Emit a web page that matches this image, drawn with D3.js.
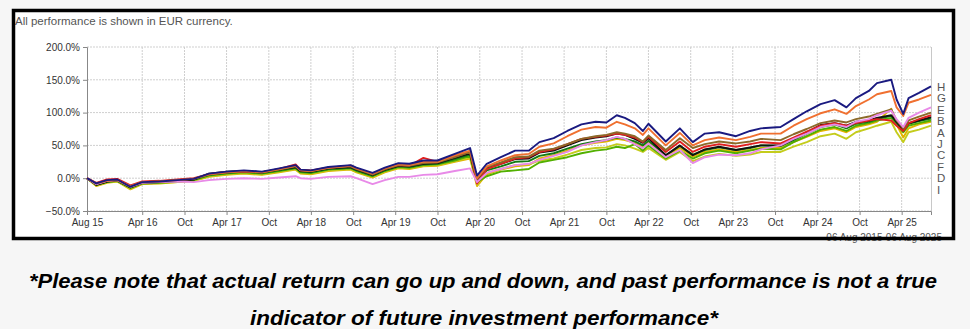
<!DOCTYPE html>
<html>
<head>
<meta charset="utf-8">
<script src="https://cdn.jsdelivr.net/npm/d3@7"></script>
<style>
  body { margin: 0; background: #f6f6f6; }
  svg { display: block; }
</style>
</head>
<body>
<svg id="chart" width="970" height="329"></svg>
<script>
// sample dates (end of each segment)
const dates = ["2015-08-06","2015-09-15","2015-11-01","2015-12-15","2016-02-10","2016-04-01","2016-06-15","2016-09-01","2016-11-10","2017-01-15",
  "2017-04-01","2017-06-15","2017-09-01","2017-11-15","2018-01-25","2018-02-15","2018-04-01","2018-06-15","2018-09-20","2018-10-15",
  "2018-12-24","2019-02-15","2019-04-15","2019-06-01","2019-08-01","2019-10-01","2019-12-15","2020-02-19","2020-03-20","2020-05-01",
  "2020-07-01","2020-09-01","2020-10-30","2020-12-15","2021-02-15","2021-04-15","2021-06-15","2021-08-15","2021-10-01","2021-11-15",
  "2021-12-20","2022-02-01","2022-03-08","2022-04-01","2022-06-15","2022-08-15","2022-10-10","2022-12-01","2023-02-01","2023-04-15",
  "2023-06-15","2023-08-01","2023-10-25","2023-12-20","2024-02-15","2024-04-15","2024-06-15","2024-08-05","2024-09-15","2024-11-10",
  "2024-12-15","2025-02-15","2025-03-10","2025-04-08","2025-05-01","2025-06-15","2025-08-06"];

// cumulative performance in %, one array per fund
const seriesH = [0,-8,-3,-2,-13,-6,-5,-3,-1,7, 10,12,10,15,20,13,12,17,20,16, 8,16,23,22,27,27,37,46,4,22,
  32,42,42,55,61,72,82,86,85,96, 92,84,72,83,56,76,55,68,70,64, 72,76,78,90,102,113,119,108,122,133, 145,150,120,98,122,130,140];
const seriesG = [0,-8,-4,-3,-12,-6,-5,-3,-1,6, 9,11,9,14,19,12,11,16,19,15, 7,15,21,20,25,25,35,42,0,18,
  27,35,37,48,53,64,74,78,77,86, 82,76,66,76,50,69,50,58,62,58, 63,68,68,80,90,99,105,98,110,120, 128,133,108,95,115,120,127];
const seriesE = [0,-9,-4,-3,-13,-7,-6,-5,-6,-3, -1,0,-1,1,3,0,-1,2,3,0, -9,-3,2,2,5,6,11,15,-6,8,
  14,20,22,28,34,40,50,55,58,63, 60,52,46,53,32,43,23,32,36,35, 38,44,50,60,68,78,82,78,86,90, 96,103,90,78,92,100,108];
const seriesB = [0,-9,-4,-3,-13,-6,-5,-3,-1,6, 9,11,9,13,18,12,11,16,18,14, 6,14,20,19,23,24,32,40,-2,17,
  24,32,33,42,45,52,60,64,66,70, 68,64,56,65,43,61,46,52,56,53, 56,60,58,67,75,84,88,85,90,94, 98,105,88,76,88,94,100];
const seriesA = [0,-7,-2,-1,-11,-5,-4,-2,0,6, 9,10,9,14,21,13,12,16,19,15, 6,14,20,19,31,25,33,40,-8,14,
  22,30,32,40,44,52,60,63,65,68, 66,62,55,63,40,56,40,48,52,48, 52,55,53,62,71,80,84,80,84,88, 90,88,80,72,84,90,96];
const seriesJ = [0,-10,-5,-3,-14,-7,-6,-4,-2,7, 10,11,9,13,17,11,10,15,17,13, 5,13,19,18,22,23,31,38,-4,15,
  22,29,30,39,42,50,58,62,64,68, 66,60,54,61,35,50,35,44,48,43, 47,50,50,60,70,81,84,80,86,88, 92,96,86,74,84,88,93];
const seriesC = [0,-10,-5,-4,-14,-7,-6,-4,-2,5, 8,10,8,12,16,10,9,14,16,12, 4,12,18,17,21,22,29,36,-5,12,
  18,25,26,34,38,45,52,56,58,62, 60,56,50,57,35,49,36,43,47,43, 46,50,49,58,68,78,82,76,83,86, 90,95,85,72,83,87,91];
const seriesF = [0,-10,-6,-4,-15,-8,-7,-5,-3,4, 7,9,7,11,15,9,8,13,15,11, 3,11,17,16,20,21,27,34,-6,3,
  10,12,14,24,28,32,38,42,44,48, 46,52,42,50,30,42,30,38,42,38, 42,45,44,55,64,74,78,72,80,84, 88,92,82,70,80,84,88];
const seriesD = [0,-11,-6,-5,-16,-8,-7,-6,-4,3, 6,8,6,10,14,8,7,12,14,10, 2,10,16,15,19,20,26,32,-10,8,
  14,20,21,27,30,36,43,46,47,52, 50,45,40,46,28,40,26,33,37,34, 36,40,40,48,55,64,68,60,70,76, 80,86,70,55,70,74,80];
const seriesI = [0,-12,-7,-5,-17,-9,-8,-6,-4,2, 5,7,5,9,13,7,6,11,13,9, 1,9,15,14,18,19,25,30,-12,6,
  13,18,20,30,35,42,50,54,56,60, 58,54,48,55,34,46,33,40,44,40, 43,46,46,55,63,72,76,70,78,82, 86,106,82,62,76,82,86];

const legendLetters = ["H","G","E","B","A","J","C","F","D","I"];
const yTicks = [-50, 0, 50, 100, 150, 200];
const xTickDates = ["2015-08-06","2016-04-01","2016-10-01","2017-04-01","2017-10-01","2018-04-01","2018-10-01","2019-04-01","2019-10-01",
  "2020-04-01","2020-10-01","2021-04-01","2021-10-01","2022-04-01","2022-10-01","2023-04-01","2023-10-01","2024-04-01","2024-10-01","2025-04-01"];
const xTickLabels = ["Aug 15","Apr 16","Oct","Apr 17","Oct","Apr 18","Oct","Apr 19","Oct","Apr 20","Oct","Apr 21","Oct","Apr 22","Oct",
  "Apr 23","Oct","Apr 24","Oct","Apr 25"];

const parse = d3.timeParse("%Y-%m-%d");
const fund = [
  { key: "I", values: seriesI, color: "#e2b400" },
  { key: "D", values: seriesD, color: "#c4cc1c" },
  { key: "F", values: seriesF, color: "#52b000" },
  { key: "C", values: seriesC, color: "#137a13" },
  { key: "J", values: seriesJ, color: "#111111" },
  { key: "A", values: seriesA, color: "#e02020" },
  { key: "B", values: seriesB, color: "#8c6a2a" },
  { key: "E", values: seriesE, color: "#e88ae8" },
  { key: "G", values: seriesG, color: "#f07030" },
  { key: "H", values: seriesH, color: "#1a1a80" }
];

const svg = d3.select("#chart");
const font = "'Liberation Sans', Arial, sans-serif";

// white panel with black frame (border drawn last)
svg.append("rect").attr("x", 13).attr("y", 10).attr("width", 941).attr("height", 229).attr("fill", "#fff");

svg.append("text")
    .attr("x", 15).attr("y", 25)
    .attr("font-family", font).attr("font-size", 11.5).attr("fill", "#555")
    .text("All performance is shown in EUR currency.");

const x = d3.scaleTime()
    .domain([parse("2015-08-06"), parse("2025-08-06")])
    .range([87, 931]);
const y = d3.scaleLinear().domain([-50, 200]).range([211, 47]);

// grid
const grid = svg.append("g");
grid.selectAll(".hg").data(yTicks).enter().append("line")
    .attr("x1", 87).attr("x2", 931)
    .attr("y1", d => y(d)).attr("y2", d => y(d))
    .attr("stroke", "#cfcfcf").attr("stroke-dasharray", "2,1");
grid.selectAll(".vg").data(xTickDates.slice(1)).enter().append("line")
    .attr("x1", d => x(parse(d))).attr("x2", d => x(parse(d)))
    .attr("y1", 47).attr("y2", 211)
    .attr("stroke", "#cfcfcf").attr("stroke-dasharray", "2,1");
grid.append("line").attr("x1", 931.5).attr("x2", 931.5).attr("y1", 47).attr("y2", 211).attr("stroke", "#c8c8c8");

// axes
const yAxis = svg.append("g")
    .attr("transform", "translate(87,0)")
    .call(d3.axisLeft(y).tickValues(yTicks).tickSize(4).tickPadding(3).tickFormat(d => d3.format(".1f")(d) + "%"));
const xAxis = svg.append("g")
    .attr("transform", "translate(0,211)")
    .call(d3.axisBottom(x).tickValues(xTickDates.map(parse)).tickSize(4).tickPadding(4)
      .tickFormat((d, i) => xTickLabels[i]));
[yAxis, xAxis].forEach(a => {
  a.select(".domain").attr("stroke", "#888");
  a.selectAll(".tick line").attr("stroke", "#888");
  a.selectAll("text").attr("font-family", font).attr("font-size", 10).attr("fill", "#333");
});

// lines
const line = d3.line()
    .x((d, i) => x(parse(dates[i])))
    .y(d => y(d));
svg.append("g").selectAll("path").data(fund).enter().append("path")
    .attr("d", d => line(d.values))
    .attr("fill", "none")
    .attr("stroke", d => d.color)
    .attr("stroke-width", 1.9)
    .attr("stroke-linejoin", "round");

// letter column on the right
svg.append("g").selectAll("text").data(legendLetters).enter().append("text")
    .attr("x", 937).attr("y", (d, i) => 91 + i * 11.4)
    .attr("font-family", font).attr("font-size", 11.5).attr("fill", "#555")
    .text(d => d);

svg.append("text")
    .attr("x", 942).attr("y", 241).attr("text-anchor", "end")
    .attr("font-family", font).attr("font-size", 10).attr("fill", "#555")
    .text("06 Aug 2015-06 Aug 2025");

svg.append("rect").attr("x", 13.5).attr("y", 10.5).attr("width", 940).attr("height", 228)
    .attr("fill", "none").attr("stroke", "#000").attr("stroke-width", 3.5);

// disclaimer
const captionFont = "'Liberation Sans Narrow', 'Arial Narrow', 'Liberation Sans', Arial, sans-serif";
svg.append("text")
    .attr("x", 483).attr("y", 288).attr("text-anchor", "middle")
    .attr("font-family", captionFont).attr("font-size", 20).attr("font-weight", "bold").attr("font-style", "italic")
    .attr("textLength", 908).attr("lengthAdjust", "spacingAndGlyphs")
    .text("*Please note that actual return can go up and down, and past performance is not a true");
svg.append("text")
    .attr("x", 484).attr("y", 325).attr("text-anchor", "middle")
    .attr("font-family", captionFont).attr("font-size", 20).attr("font-weight", "bold").attr("font-style", "italic")
    .attr("textLength", 468).attr("lengthAdjust", "spacingAndGlyphs")
    .text("indicator  of  future  investment  performance*");
</script>
</body>
</html>
